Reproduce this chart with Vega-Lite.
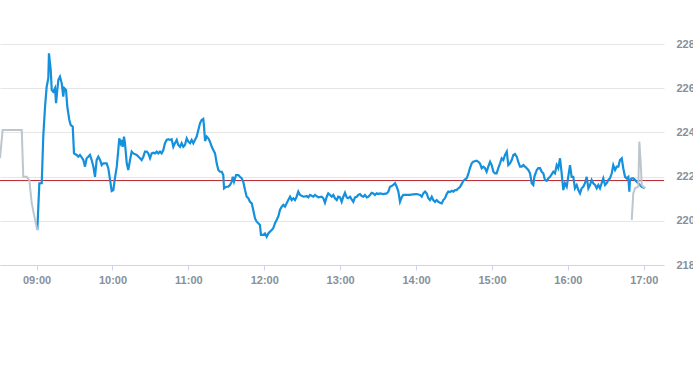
{
  "$schema": "https://vega.github.io/schema/vega-lite/v6.json",
  "width": 664,
  "height": 221,
  "padding": {"left": 0, "top": 44, "right": 29, "bottom": 100},
  "autosize": {"type": "none"},
  "background": "white",
  "config": {"view": {"stroke": null}, "font": "Liberation Sans"},
  "datasets": {
    "grey": [
      {"s": "pre", "m": 511.1, "v": 222.83}, {"s": "pre", "m": 513.2, "v": 224.11}, {"s": "pre", "m": 528.3, "v": 224.11},
      {"s": "pre", "m": 529.5, "v": 221.99}, {"s": "pre", "m": 532.2, "v": 221.99}, {"s": "pre", "m": 534.3, "v": 221.84},
      {"s": "pre", "m": 536.2, "v": 220.79}, {"s": "pre", "m": 538.8, "v": 220.04}, {"s": "pre", "m": 540.6, "v": 219.58},
      {"s": "post", "m": 1010.5, "v": 220.04}, {"s": "post", "m": 1011.7, "v": 221.24}, {"s": "post", "m": 1013.1, "v": 221.47},
      {"s": "post", "m": 1014.4, "v": 221.51}, {"s": "post", "m": 1015.7, "v": 221.54}, {"s": "post", "m": 1016.5, "v": 223.58},
      {"s": "post", "m": 1017.6, "v": 222.6}, {"s": "post", "m": 1018.4, "v": 221.62}, {"s": "post", "m": 1019.6, "v": 221.54},
      {"s": "post", "m": 1021.0, "v": 221.47}
    ],
    "main": [
      {"m": 540.6, "v": 219.58}, {"m": 542.2, "v": 221.7}, {"m": 544.1, "v": 221.7}, {"m": 545.3, "v": 223.81},
      {"m": 546.7, "v": 225.16}, {"m": 548.0, "v": 226.07}, {"m": 549.3, "v": 226.45}, {"m": 549.8, "v": 227.58},
      {"m": 551.2, "v": 226.82}, {"m": 552.0, "v": 225.92}, {"m": 553.2, "v": 225.84}, {"m": 554.6, "v": 226.0},
      {"m": 555.4, "v": 225.32}, {"m": 556.4, "v": 225.92}, {"m": 557.2, "v": 226.37}, {"m": 558.5, "v": 226.52},
      {"m": 559.9, "v": 226.22}, {"m": 561.1, "v": 225.62}, {"m": 561.9, "v": 226.0}, {"m": 563.3, "v": 225.92},
      {"m": 564.3, "v": 225.16}, {"m": 565.9, "v": 224.56}, {"m": 567.0, "v": 224.33}, {"m": 568.6, "v": 224.26},
      {"m": 569.6, "v": 223.05}, {"m": 571.7, "v": 222.98}, {"m": 573.0, "v": 222.9}, {"m": 574.3, "v": 222.98},
      {"m": 575.7, "v": 222.87}, {"m": 577.0, "v": 222.75}, {"m": 578.3, "v": 222.45}, {"m": 579.6, "v": 222.83},
      {"m": 580.9, "v": 222.9}, {"m": 582.2, "v": 222.98}, {"m": 583.6, "v": 222.75}, {"m": 584.9, "v": 222.45},
      {"m": 586.2, "v": 221.99}, {"m": 587.5, "v": 222.75}, {"m": 588.8, "v": 222.9}, {"m": 590.2, "v": 222.75},
      {"m": 591.5, "v": 222.52}, {"m": 592.8, "v": 222.6}, {"m": 595.4, "v": 222.6}, {"m": 596.7, "v": 222.38},
      {"m": 598.1, "v": 221.85}, {"m": 599.4, "v": 221.35}, {"m": 600.7, "v": 221.39}, {"m": 602.0, "v": 221.94},
      {"m": 603.4, "v": 222.45}, {"m": 604.6, "v": 223.2}, {"m": 605.4, "v": 223.73}, {"m": 606.5, "v": 223.51},
      {"m": 607.3, "v": 223.66}, {"m": 608.1, "v": 223.35}, {"m": 609.1, "v": 223.81}, {"m": 609.9, "v": 223.51},
      {"m": 611.3, "v": 222.6}, {"m": 612.5, "v": 222.3}, {"m": 613.9, "v": 222.75}, {"m": 615.2, "v": 223.13},
      {"m": 616.5, "v": 223.05}, {"m": 619.2, "v": 222.98}, {"m": 621.8, "v": 222.83}, {"m": 623.1, "v": 222.75},
      {"m": 624.4, "v": 222.9}, {"m": 625.7, "v": 223.13}, {"m": 627.1, "v": 223.13}, {"m": 628.3, "v": 223.05},
      {"m": 629.7, "v": 222.83}, {"m": 631.0, "v": 223.05}, {"m": 632.3, "v": 223.08}, {"m": 633.6, "v": 223.05},
      {"m": 635.0, "v": 223.13}, {"m": 636.2, "v": 223.05}, {"m": 637.6, "v": 223.13}, {"m": 638.9, "v": 223.05},
      {"m": 640.2, "v": 223.2}, {"m": 641.5, "v": 223.51}, {"m": 642.9, "v": 223.66}, {"m": 644.1, "v": 223.69},
      {"m": 645.5, "v": 223.66}, {"m": 646.8, "v": 223.69}, {"m": 648.1, "v": 223.35}, {"m": 649.4, "v": 223.51},
      {"m": 650.8, "v": 223.66}, {"m": 652.0, "v": 223.43}, {"m": 653.4, "v": 223.35}, {"m": 654.7, "v": 223.51},
      {"m": 656.0, "v": 223.35}, {"m": 657.3, "v": 223.43}, {"m": 658.7, "v": 223.73}, {"m": 660.0, "v": 223.58},
      {"m": 661.3, "v": 223.51}, {"m": 662.6, "v": 223.66}, {"m": 663.9, "v": 223.51}, {"m": 665.2, "v": 223.66},
      {"m": 666.6, "v": 223.81}, {"m": 667.9, "v": 224.11}, {"m": 669.2, "v": 224.41}, {"m": 670.5, "v": 224.56},
      {"m": 671.8, "v": 224.61}, {"m": 672.4, "v": 224.26}, {"m": 673.2, "v": 223.61}, {"m": 674.5, "v": 223.81},
      {"m": 675.8, "v": 223.73}, {"m": 677.1, "v": 223.58}, {"m": 678.5, "v": 223.35}, {"m": 679.7, "v": 223.2},
      {"m": 681.1, "v": 223.05}, {"m": 682.4, "v": 222.6}, {"m": 683.7, "v": 222.3}, {"m": 685.0, "v": 222.22},
      {"m": 686.4, "v": 222.22}, {"m": 687.6, "v": 222.07}, {"m": 688.2, "v": 221.47}, {"m": 689.8, "v": 221.54},
      {"m": 691.6, "v": 221.54}, {"m": 692.9, "v": 221.62}, {"m": 694.3, "v": 221.77}, {"m": 695.1, "v": 221.99},
      {"m": 696.1, "v": 221.77}, {"m": 697.7, "v": 222.07}, {"m": 699.5, "v": 222.07}, {"m": 700.8, "v": 221.99},
      {"m": 702.2, "v": 221.92}, {"m": 703.4, "v": 221.77}, {"m": 704.8, "v": 221.39}, {"m": 706.1, "v": 221.09},
      {"m": 707.4, "v": 221.02}, {"m": 708.7, "v": 220.86}, {"m": 710.1, "v": 220.79}, {"m": 711.3, "v": 220.49},
      {"m": 712.7, "v": 220.11}, {"m": 714.0, "v": 219.96}, {"m": 715.3, "v": 219.89}, {"m": 716.6, "v": 219.81},
      {"m": 717.4, "v": 219.36}, {"m": 719.2, "v": 219.36}, {"m": 720.6, "v": 219.43}, {"m": 721.9, "v": 219.28},
      {"m": 723.2, "v": 219.43}, {"m": 724.5, "v": 219.51}, {"m": 725.9, "v": 219.58}, {"m": 727.1, "v": 219.66},
      {"m": 728.5, "v": 219.89}, {"m": 729.8, "v": 220.04}, {"m": 731.1, "v": 220.19}, {"m": 732.4, "v": 220.49},
      {"m": 733.8, "v": 220.64}, {"m": 735.1, "v": 220.72}, {"m": 736.4, "v": 220.64}, {"m": 737.7, "v": 220.79},
      {"m": 739.0, "v": 220.94}, {"m": 740.4, "v": 221.09}, {"m": 741.7, "v": 220.94}, {"m": 743.0, "v": 221.02},
      {"m": 744.3, "v": 220.94}, {"m": 745.6, "v": 221.09}, {"m": 746.9, "v": 221.32}, {"m": 748.3, "v": 221.17},
      {"m": 750.9, "v": 221.09}, {"m": 753.6, "v": 221.12}, {"m": 754.8, "v": 221.06}, {"m": 756.2, "v": 221.17},
      {"m": 758.8, "v": 221.09}, {"m": 760.1, "v": 221.17}, {"m": 762.7, "v": 221.06}, {"m": 765.4, "v": 221.09},
      {"m": 766.7, "v": 221.02}, {"m": 768.0, "v": 220.82}, {"m": 769.4, "v": 221.09}, {"m": 770.6, "v": 221.24},
      {"m": 772.0, "v": 221.17}, {"m": 773.3, "v": 221.09}, {"m": 774.6, "v": 221.17}, {"m": 775.9, "v": 221.02},
      {"m": 777.3, "v": 220.94}, {"m": 778.5, "v": 221.09}, {"m": 779.9, "v": 221.06}, {"m": 781.2, "v": 220.86},
      {"m": 782.5, "v": 221.09}, {"m": 783.8, "v": 221.27}, {"m": 785.2, "v": 221.06}, {"m": 786.4, "v": 221.02},
      {"m": 787.8, "v": 221.09}, {"m": 789.1, "v": 220.97}, {"m": 790.4, "v": 220.86}, {"m": 791.7, "v": 221.06},
      {"m": 793.1, "v": 221.09}, {"m": 794.3, "v": 221.17}, {"m": 795.7, "v": 221.21}, {"m": 797.0, "v": 221.12},
      {"m": 798.3, "v": 221.09}, {"m": 799.6, "v": 221.17}, {"m": 801.0, "v": 221.06}, {"m": 802.2, "v": 221.09},
      {"m": 803.6, "v": 221.17}, {"m": 804.9, "v": 221.27}, {"m": 806.2, "v": 221.24}, {"m": 807.5, "v": 221.17},
      {"m": 808.9, "v": 221.24}, {"m": 810.2, "v": 221.21}, {"m": 811.5, "v": 221.24}, {"m": 814.1, "v": 221.21},
      {"m": 816.8, "v": 221.24}, {"m": 818.1, "v": 221.32}, {"m": 819.4, "v": 221.54}, {"m": 820.7, "v": 221.57},
      {"m": 822.0, "v": 221.62}, {"m": 823.4, "v": 221.7}, {"m": 824.7, "v": 221.54}, {"m": 826.0, "v": 221.32},
      {"m": 827.3, "v": 220.86}, {"m": 828.6, "v": 221.06}, {"m": 829.9, "v": 221.17}, {"m": 832.6, "v": 221.17},
      {"m": 835.2, "v": 221.17}, {"m": 837.8, "v": 221.2}, {"m": 840.5, "v": 221.21}, {"m": 843.1, "v": 221.17},
      {"m": 844.5, "v": 221.09}, {"m": 845.7, "v": 221.24}, {"m": 847.1, "v": 221.32}, {"m": 848.4, "v": 221.24},
      {"m": 849.7, "v": 221.02}, {"m": 851.0, "v": 220.94}, {"m": 852.4, "v": 221.09}, {"m": 853.6, "v": 220.94},
      {"m": 855.0, "v": 220.86}, {"m": 856.3, "v": 220.94}, {"m": 857.6, "v": 220.86}, {"m": 858.9, "v": 220.82},
      {"m": 860.3, "v": 220.79}, {"m": 861.5, "v": 220.94}, {"m": 862.9, "v": 221.02}, {"m": 864.2, "v": 221.21},
      {"m": 865.5, "v": 221.32}, {"m": 866.8, "v": 221.3}, {"m": 868.2, "v": 221.36}, {"m": 869.4, "v": 221.32},
      {"m": 870.8, "v": 221.39}, {"m": 872.1, "v": 221.39}, {"m": 873.4, "v": 221.47}, {"m": 874.7, "v": 221.53},
      {"m": 876.1, "v": 221.67}, {"m": 877.3, "v": 221.8}, {"m": 878.7, "v": 221.87}, {"m": 880.0, "v": 221.92},
      {"m": 881.3, "v": 222.12}, {"m": 882.6, "v": 222.38}, {"m": 884.0, "v": 222.6}, {"m": 885.2, "v": 222.67},
      {"m": 887.9, "v": 222.72}, {"m": 889.2, "v": 222.67}, {"m": 890.5, "v": 222.6}, {"m": 891.9, "v": 222.38},
      {"m": 893.2, "v": 222.45}, {"m": 894.5, "v": 222.38}, {"m": 895.8, "v": 222.22}, {"m": 897.1, "v": 222.45},
      {"m": 898.5, "v": 222.67}, {"m": 899.8, "v": 222.52}, {"m": 901.1, "v": 222.22}, {"m": 902.4, "v": 222.15},
      {"m": 903.7, "v": 222.15}, {"m": 905.0, "v": 222.38}, {"m": 906.4, "v": 222.6}, {"m": 907.7, "v": 222.83},
      {"m": 909.0, "v": 222.75}, {"m": 910.3, "v": 222.98}, {"m": 911.7, "v": 223.13}, {"m": 912.9, "v": 222.52},
      {"m": 914.3, "v": 222.6}, {"m": 915.6, "v": 222.75}, {"m": 916.9, "v": 222.98}, {"m": 918.2, "v": 223.02},
      {"m": 919.6, "v": 222.9}, {"m": 920.8, "v": 222.67}, {"m": 922.2, "v": 222.45}, {"m": 923.5, "v": 222.45},
      {"m": 924.8, "v": 222.52}, {"m": 926.1, "v": 222.45}, {"m": 927.5, "v": 222.38}, {"m": 928.7, "v": 222.3},
      {"m": 930.1, "v": 222.15}, {"m": 931.4, "v": 221.7}, {"m": 932.7, "v": 221.62}, {"m": 933.5, "v": 221.99},
      {"m": 935.4, "v": 222.3}, {"m": 936.6, "v": 222.38}, {"m": 938.0, "v": 222.38}, {"m": 939.3, "v": 222.22},
      {"m": 940.6, "v": 222.15}, {"m": 941.9, "v": 221.85}, {"m": 943.3, "v": 221.81}, {"m": 944.5, "v": 221.92},
      {"m": 945.9, "v": 221.99}, {"m": 947.2, "v": 222.1}, {"m": 948.5, "v": 222.22}, {"m": 949.8, "v": 222.15},
      {"m": 951.2, "v": 222.52}, {"m": 952.4, "v": 222.38}, {"m": 953.8, "v": 222.83}, {"m": 955.1, "v": 222.15},
      {"m": 956.4, "v": 221.39}, {"m": 957.7, "v": 221.7}, {"m": 959.1, "v": 221.54}, {"m": 960.3, "v": 221.99},
      {"m": 961.7, "v": 222.52}, {"m": 963.0, "v": 221.99}, {"m": 964.3, "v": 221.99}, {"m": 965.6, "v": 221.47},
      {"m": 967.0, "v": 221.62}, {"m": 968.3, "v": 221.39}, {"m": 969.6, "v": 221.24}, {"m": 970.9, "v": 221.47},
      {"m": 972.2, "v": 221.54}, {"m": 973.5, "v": 221.7}, {"m": 974.9, "v": 221.99}, {"m": 976.2, "v": 221.47},
      {"m": 977.5, "v": 221.62}, {"m": 978.8, "v": 221.85}, {"m": 980.1, "v": 221.7}, {"m": 981.5, "v": 221.62},
      {"m": 982.8, "v": 221.47}, {"m": 984.1, "v": 221.62}, {"m": 985.4, "v": 221.47}, {"m": 986.7, "v": 221.7},
      {"m": 988.0, "v": 221.92}, {"m": 989.4, "v": 221.62}, {"m": 990.7, "v": 221.7}, {"m": 992.0, "v": 221.85},
      {"m": 993.3, "v": 221.92}, {"m": 994.7, "v": 222.15}, {"m": 995.9, "v": 222.52}, {"m": 997.3, "v": 222.3},
      {"m": 998.6, "v": 222.45}, {"m": 999.9, "v": 222.45}, {"m": 1001.2, "v": 222.75}, {"m": 1002.6, "v": 222.83},
      {"m": 1003.8, "v": 222.38}, {"m": 1005.2, "v": 221.99}, {"m": 1006.5, "v": 221.92}, {"m": 1007.8, "v": 221.99},
      {"m": 1008.6, "v": 221.32}, {"m": 1009.1, "v": 221.85}, {"m": 1010.5, "v": 221.92}, {"m": 1011.7, "v": 221.92},
      {"m": 1013.1, "v": 221.85}, {"m": 1014.4, "v": 221.77}, {"m": 1015.7, "v": 221.7}, {"m": 1017.0, "v": 221.62},
      {"m": 1018.4, "v": 221.54}, {"m": 1019.6, "v": 221.51}, {"m": 1021.0, "v": 221.47}
    ]
  },
  "layer": [
    {
      "data": {"values": [{"p": 221.82}]},
      "mark": {"type": "rule", "color": "#b8232c", "strokeWidth": 1},
      "encoding": {
        "y": {
          "field": "p",
          "type": "quantitative",
          "scale": {"domain": [218, 228], "nice": false, "zero": false},
          "axis": {
            "orient": "right",
            "values": [218, 220, 222, 224, 226, 228],
            "grid": true,
            "gridColor": "#e6e6e6",
            "domain": false,
            "ticks": false,
            "labelPadding": 12,
            "labelColor": "#86909b",
            "labelFontSize": 11,
            "labelFontWeight": "bold",
            "labelFont": "Liberation Sans",
            "title": null
          }
        }
      }
    },
    {
      "data": {"name": "main"},
      "mark": {"type": "line", "color": "#1590dd", "strokeWidth": 2.2},
      "encoding": {
        "x": {
          "field": "m",
          "type": "quantitative",
          "scale": {"domain": [511.1, 1036], "nice": false, "zero": false},
          "axis": {
            "values": [540, 600, 660, 720, 780, 840, 900, 960, 1020],
            "labelExpr": "(datum.value < 600 ? '0' : '') + floor(datum.value / 60) + ':00'",
            "grid": false,
            "domainColor": "#ccd6eb",
            "tickColor": "#ccd6eb",
            "tickSize": 5,
            "labelColor": "#86909b",
            "labelFontSize": 11,
            "labelFontWeight": "bold",
            "labelFont": "Liberation Sans",
            "labelPadding": 4,
            "labelFlush": false,
            "title": null
          }
        },
        "y": {"field": "v", "type": "quantitative"}
      }
    },
    {
      "data": {"name": "grey"},
      "mark": {"type": "line", "color": "#bcc6cc", "strokeWidth": 2},
      "encoding": {
        "x": {"field": "m", "type": "quantitative"},
        "y": {"field": "v", "type": "quantitative"},
        "detail": {"field": "s"}
      }
    }
  ]
}
